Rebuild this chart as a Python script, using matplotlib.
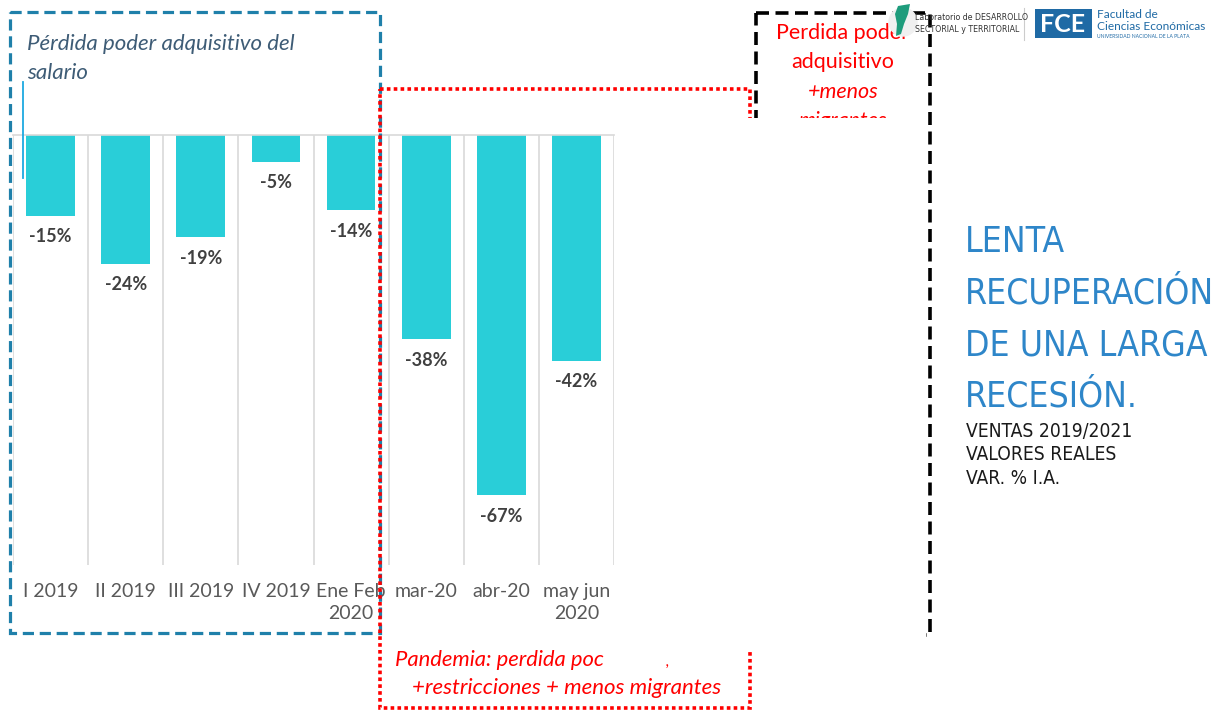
import matplotlib
matplotlib.use("Agg")
import matplotlib.pyplot as plt
from matplotlib import font_manager as fm
from matplotlib.patches import Rectangle, Polygon
import numpy as np

# --------------------------------------------------
# DATA
# --------------------------------------------------

categories = ["I 2019", "II 2019", "III 2019", "IV 2019", "Ene Feb\n2020",
              "mar-20", "abr-20", "may jun\n2020"]
values = [-15, -24, -19, -5, -14, -38, -67, -42]

W, H = 1215, 710
BAR = "#29CED8"
BODY = ["Lato", "DejaVu Sans"]

# look for a condensed face for the title block
narrow_file = None
for want in ["LiberationSansNarrow-Regular", "DejaVuSansCondensed.ttf",
             "NotoSans-Condensed.ttf", "NotoSans-CondensedRegular",
             "RobotoCondensed-Regular", "OpenSans-CondensedRegular",
             "OpenSansCondensed", "Condensed"]:
    hits = [f for f in fm.findSystemFonts() if want.lower() in f.lower()
            and "bold" not in f.lower() and "italic" not in f.lower()
            and "oblique" not in f.lower()]
    if hits:
        narrow_file = sorted(hits)[0]
        break
if narrow_file:
    NARROW = fm.FontProperties(fname=narrow_file)
    TSCALE = 1.0
else:
    NARROW = fm.FontProperties(family="DejaVu Sans")
    TSCALE = 0.85

fig = plt.figure(figsize=(W / 100, H / 100), dpi=100)

# --------------------------------------------------
# BAR CHART
# --------------------------------------------------

ax = fig.add_axes([13 / W, 1 - 565 / H, 601 / W, 430 / H])
x = np.arange(len(categories))
ax.bar(x, values, width=0.65, color=BAR, zorder=2)
ax.set_xlim(-0.5, len(categories) - 0.5)
ax.set_ylim(-80, 0)

ax.set_xticks(x)
ax.set_xticklabels(categories, fontsize=14, color="#595959", family=BODY,
                   linespacing=1.35)
ax.set_xticks(np.arange(-0.5, len(categories), 1), minor=True)
ax.tick_params(axis="x", which="both", length=0, pad=13)
ax.set_yticks([])
ax.grid(True, which="minor", axis="x", color="#D9D9D9", lw=1.2, zorder=0)
for s in ["left", "right", "bottom"]:
    ax.spines[s].set_visible(False)
ax.spines["top"].set_color("#D9D9D9")
ax.spines["top"].set_linewidth(1.2)

for xi, v in zip(x, values):
    ax.annotate(f"{v}%", (xi, v), xytext=(0, -9), textcoords="offset points",
                ha="center", va="top", fontsize=13, fontweight="bold",
                color="#404040", family=BODY)

# --------------------------------------------------
# SLIDE OVERLAY (pixel coordinates)
# --------------------------------------------------

ov = fig.add_axes([0, 0, 1, 1], zorder=5)
ov.set_xlim(0, W)
ov.set_ylim(H, 0)
ov.axis("off")
ov.patch.set_alpha(0)

# small blue axis stub
ov.plot([23, 23], [82, 178], color="#1CA9E0", lw=1.3)

# blue dashed box
ov.add_patch(Rectangle((10, 12), 370, 621, fill=False, ec="#1F80AA",
                       lw=2.3, ls=(0, (3.5, 1.8))))
ov.text(27, 44, "Pérdida poder adquisitivo del", fontsize=16, style="italic",
        color="#3E5C76", va="center", family=BODY)
ov.text(27, 73, "salario", fontsize=16, style="italic",
        color="#3E5C76", va="center", family=BODY)

# black dashed box
ov.add_patch(Rectangle((756, 13), 174, 622, fill=False, ec="black",
                       lw=2.6, ls=(0, (3.6, 1.8))))
red_lines = [("Perdida poder", "normal", 33), ("adquisitivo", "normal", 62),
             ("+menos", "italic", 92), ("migrantes", "italic", 121)]
for txt, st, yy in red_lines:
    ov.text(843, yy, txt, fontsize=15.5, style=st, color="red", ha="center",
            va="center", family=BODY)

# red dotted box
ov.add_patch(Rectangle((380, 89), 370, 619, fill=False, ec="red",
                       lw=2.6, ls=(0, (1, 0.9)), zorder=3))

# white block hiding parts of the boxes
ov.add_patch(Rectangle((617, 118), 309, 532, fc="white", ec="none", zorder=4))

ov.text(395, 660, "Pandemia: perdida poc", fontsize=15.8, style="italic",
        color="red", va="center", family=BODY, zorder=5)
ov.text(666, 662, ",", fontsize=11, style="italic", color="red",
        va="center", family=BODY, zorder=5)
ov.text(412, 688, "+restricciones + menos migrantes", fontsize=16,
        style="italic", color="red", va="center", family=BODY, zorder=5)

# --------------------------------------------------
# TITLE
# --------------------------------------------------

title_lines = ["LENTA", "RECUPERACIÓN", "DE UNA LARGA", "RECESIÓN."]
for i, t in enumerate(title_lines):
    ov.text(965, 252 + i * 51.5, t, fontproperties=NARROW,
            fontsize=25.5 * TSCALE, color="#2E86C9", va="baseline", zorder=6)
sub_lines = ["VENTAS 2019/2021", "VALORES REALES", "VAR. % I.A."]
for i, t in enumerate(sub_lines):
    ov.text(966, 437 + i * 23.5, t, fontproperties=NARROW,
            fontsize=13.8 * TSCALE, color="#1A1A1A", va="baseline", zorder=6)

# --------------------------------------------------
# LOGOS
# --------------------------------------------------

ov.add_patch(plt.Circle((903, 22), 14, color="#F0F0F0", zorder=6))
ov.add_patch(Polygon([[898, 6], [910, 4], [908, 14], [904, 24], [901, 34],
                      [896, 36], [897, 24], [895, 14]],
                     closed=True, fc="#1E9C7C", ec="none", zorder=7))
ov.text(915, 18, "Laboratorio de DESARROLLO", fontproperties=NARROW,
        fontsize=6.3 * TSCALE, color="#333333", va="center", zorder=8)
ov.text(915, 29, "SECTORIAL y TERRITORIAL", fontproperties=NARROW,
        fontsize=6.3 * TSCALE, color="#333333", va="center", zorder=8)
ov.plot([1024, 1024], [8, 40], color="#CCCCCC", lw=0.8, zorder=6)

ov.add_patch(Rectangle((1035, 9), 57, 29, fc="#1F6AA5", ec="none", zorder=6))
ov.text(1063, 24, "FCE", fontsize=18, color="white", ha="center",
        va="center", fontweight="bold", family=BODY, zorder=7)
ov.text(1097, 14, "Facultad de", fontsize=8.6, color="#1F6AA5",
        va="center", family=BODY, zorder=7)
ov.text(1097, 26, "Ciencias Económicas", fontsize=8.6, color="#1F6AA5",
        va="center", family=BODY, zorder=7)
ov.text(1097, 36, "UNIVERSIDAD NACIONAL DE LA PLATA", fontsize=3.6,
        color="#1F6AA5", va="center", family=BODY, zorder=7)

fig.savefig("out.png", dpi=100)
